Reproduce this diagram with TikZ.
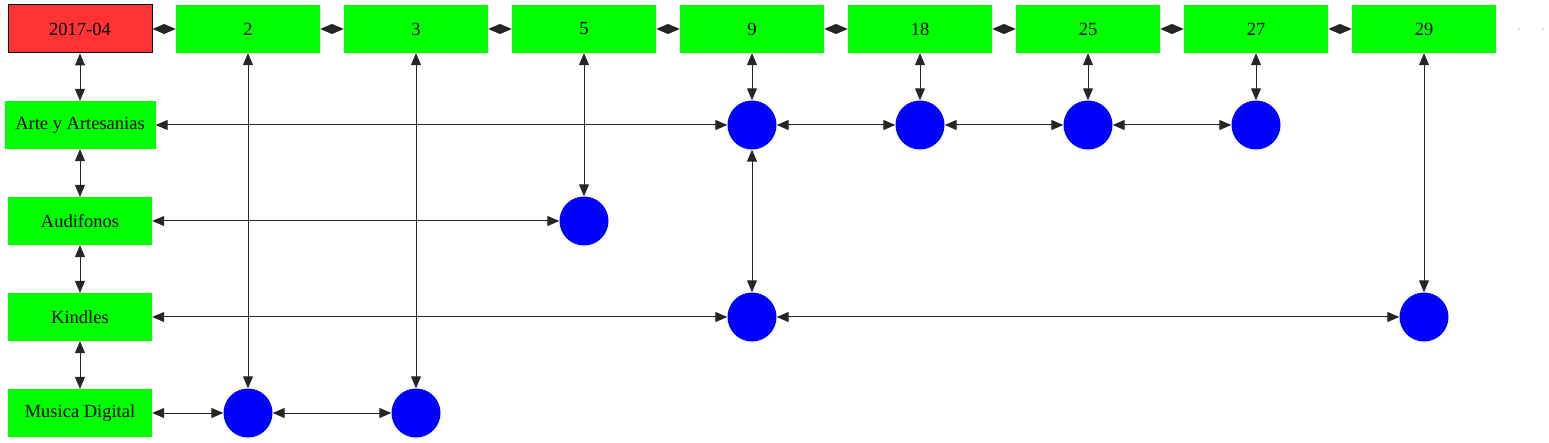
\documentclass[tikz,border=0pt]{standalone}
\usepackage{fontspec}
\setmainfont{Liberation Serif}
\usetikzlibrary{arrows.meta}
\definecolor{gvred}{HTML}{FF3333}
\definecolor{gvgreen}{HTML}{00FF00}
\definecolor{gvblue}{HTML}{0000FF}
\begin{document}
\begin{tikzpicture}[x=1pt,y=-1pt,
  box/.style={fill=gvgreen,draw=none,minimum width=144pt,minimum height=48pt,inner sep=0pt,font=\fontsize{18.5}{20}\selectfont},
  datebox/.style={box,fill=gvred,draw=black,line width=1pt},
  dot/.style={circle,fill=gvblue,draw=none,minimum size=49pt,inner sep=0pt},
  link/.style={{Triangle[length=12pt,width=10pt]}-{Triangle[length=12pt,width=10pt]},line width=1pt,draw=black!85}]
\useasboundingbox (0,0) rectangle (1549,443);
% top row
\node[datebox] (d) at (80,29) {2017-04};
\node[box] (t2) at (248,29) {2};
\node[box] (t3) at (416,29) {3};
\node[box] (t5) at (584,29) {5};
\node[box] (t9) at (752,29) {9};
\node[box] (t18) at (920,29) {18};
\node[box] (t25) at (1088,29) {25};
\node[box] (t27) at (1256,29) {27};
\node[box] (t29) at (1424,29) {29};
\fill[black!60] (1519,29) circle (0.6pt);
\fill[black!60] (1543,29) circle (0.6pt);
% left column
\node[box,minimum width=151pt] (art) at (80,125) {Arte y Artesanias};
\node[box] (aud) at (80,221) {Audifonos};
\node[box] (kin) at (80,317) {Kindles};
\node[box] (mus) at (80,413) {Musica Digital};
% dots
\node[dot] (a9) at (752,125) {};
\node[dot] (a18) at (920,125) {};
\node[dot] (a25) at (1088,125) {};
\node[dot] (a27) at (1256,125) {};
\node[dot] (u5) at (584,221) {};
\node[dot] (k9) at (752,317) {};
\node[dot] (k29) at (1424,317) {};
\node[dot] (m2) at (248,413) {};
\node[dot] (m3) at (416,413) {};
% top row links
\draw[link] (d) -- (t2);
\draw[link] (t2) -- (t3);
\draw[link] (t3) -- (t5);
\draw[link] (t5) -- (t9);
\draw[link] (t9) -- (t18);
\draw[link] (t18) -- (t25);
\draw[link] (t25) -- (t27);
\draw[link] (t27) -- (t29);
% left column links
\draw[link] (d) -- (art);
\draw[link] (art) -- (aud);
\draw[link] (aud) -- (kin);
\draw[link] (kin) -- (mus);
% vertical links
\draw[link] (t2) -- (m2);
\draw[link] (t3) -- (m3);
\draw[link] (t5) -- (u5);
\draw[link] (t9) -- (a9);
\draw[link] (a9) -- (k9);
\draw[link] (t18) -- (a18);
\draw[link] (t25) -- (a25);
\draw[link] (t27) -- (a27);
\draw[link] (t29) -- (k29);
% horizontal links
\draw[link] (art) -- (a9);
\draw[link] (a9) -- (a18);
\draw[link] (a18) -- (a25);
\draw[link] (a25) -- (a27);
\draw[link] (aud) -- (u5);
\draw[link] (kin) -- (k9);
\draw[link] (k9) -- (k29);
\draw[link] (mus) -- (m2);
\draw[link] (m2) -- (m3);
\end{tikzpicture}
\end{document}
